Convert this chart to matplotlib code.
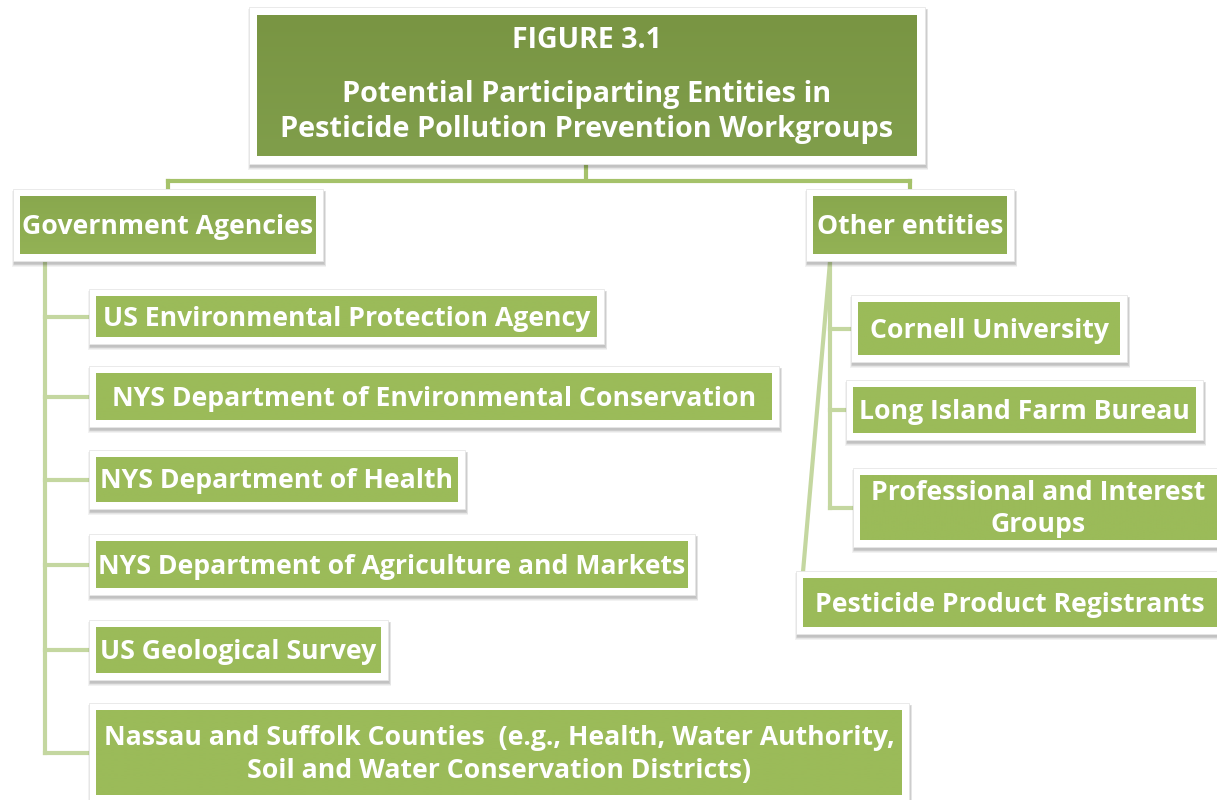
import matplotlib
matplotlib.use("Agg")
import matplotlib.pyplot as plt
from matplotlib.patches import Rectangle
from matplotlib.colors import LinearSegmentedColormap
import numpy as np

# ---- content ----
title_heading = "FIGURE 3.1"
title_text = "Potential Participarting Entities in\nPesticide Pollution Prevention Workgroups"
group_labels = ["Government Agencies", "Other entities"]
gov_entities = [
    "US Environmental Protection Agency",
    "NYS Department of Environmental Conservation",
    "NYS Department of Health",
    "NYS Department of Agriculture and Markets",
    "US Geological Survey",
    "Nassau and Suffolk Counties  (e.g., Health, Water Authority,\nSoil and Water Conservation Districts)",
]
other_entities = [
    "Cornell University",
    "Long Island Farm Bureau",
    "Professional and Interest\nGroups",
    "Pesticide Product Registrants",
]

# ---- layout (pixel coordinates of green boxes: x0, y0, x1, y1) ----
title_box = (257, 15, 917, 156)
group_boxes = [(20, 196, 316, 254), (813, 196, 1007, 254)]
gov_boxes = [(96, 296, 597, 337), (96, 373, 772, 420), (96, 457, 458, 502),
             (96, 541, 688, 588), (96, 627, 381, 673), (96, 710, 902, 795)]
other_boxes = [(858, 302, 1120, 355), (853, 387, 1196, 433),
               (860, 475, 1222, 540), (803, 578, 1222, 627)]

FONT = ["Open Sans", "DejaVu Sans"]
W, H = 1217, 800
fig = plt.figure(figsize=(W / 100, H / 100), dpi=100)
ax = fig.add_axes([0, 0, 1, 1])
ax.set_xlim(0, W)
ax.set_ylim(H, 0)
ax.axis("off")

LINE_DARK = "#a5c26a"
LINE_LIGHT = "#c4d7a0"
FS = 19.2


def box(b, c_top, c_bot, pad=7, z=3):
    x0, y0, x1, y1 = b
    # soft shadow
    for k in range(5):
        ax.add_patch(Rectangle((x0 - pad + 1 - k * 0.5, y0 - pad + 3 - k * 0.3),
                               (x1 - x0) + 2 * pad + k, (y1 - y0) + 2 * pad + k,
                               fc="black", ec="none", alpha=0.05, zorder=z))
    ax.add_patch(Rectangle((x0 - pad, y0 - pad), (x1 - x0) + 2 * pad,
                           (y1 - y0) + 2 * pad, fc="white", ec="#e6e6e6",
                           lw=0.6, zorder=z + 0.1))
    cmap = LinearSegmentedColormap.from_list("g", [c_top, c_bot])
    grad = np.linspace(0, 1, 64).reshape(-1, 1)
    ax.imshow(grad, cmap=cmap, extent=(x0, x1, y1, y0), aspect="auto",
              zorder=z + 0.2, interpolation="bilinear")


def label(x, y, s, size, z=5, ls=1.25):
    ax.text(x, y + 2, s, ha="center", va="center", color="white", fontsize=size,
            fontweight="bold", family=FONT, zorder=z, linespacing=ls)


# connectors
lw = 3.0
tx = (title_box[0] + title_box[2]) / 2 - 1
gx = [168, 910]
ax.plot([tx, tx], [163, 181], color=LINE_DARK, lw=lw, zorder=1, solid_capstyle="butt")
ax.plot([gx[0], gx[1]], [181, 181], color=LINE_DARK, lw=lw, zorder=1)
for x in gx:
    ax.plot([x, x], [181, 192], color=LINE_DARK, lw=lw, zorder=1)

# left tree
lx = 45
gov_cy = [(b[1] + b[3]) / 2 for b in gov_boxes]
ax.plot([lx, lx], [262, gov_cy[-1]], color=LINE_LIGHT, lw=lw, zorder=1)
for cy in gov_cy:
    ax.plot([lx, 92], [cy, cy], color=LINE_LIGHT, lw=lw, zorder=1)

# right tree
rx = 830
oth_cy = [(b[1] + b[3]) / 2 for b in other_boxes]
ax.plot([rx, rx], [262, oth_cy[2]], color=LINE_LIGHT, lw=lw, zorder=1)
for cy in oth_cy[:3]:
    ax.plot([rx, 852], [cy, cy], color=LINE_LIGHT, lw=lw, zorder=1)
ax.plot([rx, 803], [262, 572], color=LINE_LIGHT, lw=lw, zorder=1)

# boxes
box(title_box, "#799543", "#809e4b", pad=8)
ax.text(587, 41, title_heading, ha="center", va="center", color="white",
        fontsize=20.5, fontweight="bold", family=FONT, zorder=5)
ax.text(587, 112, title_text, ha="center", va="center", color="white",
        fontsize=20.8, fontweight="bold", family=FONT, zorder=5, linespacing=1.25)

for b, s in zip(group_boxes, group_labels):
    box(b, "#89a84e", "#93b255", pad=7)
    label((b[0] + b[2]) / 2, (b[1] + b[3]) / 2, s, FS)

for b, s in zip(gov_boxes, gov_entities):
    box(b, "#9bbb59", "#9bbb59", pad=7)
    label((b[0] + b[2]) / 2, (b[1] + b[3]) / 2, s, FS, ls=1.32)

for b, s in zip(other_boxes, other_entities):
    box(b, "#9bbb59", "#9bbb59", pad=7)
    cx = (b[0] + b[2]) / 2 if b[2] < W else (b[0] + W) / 2
    label(cx, (b[1] + b[3]) / 2, s, FS, ls=1.3)

fig.savefig("out.png", dpi=100)
